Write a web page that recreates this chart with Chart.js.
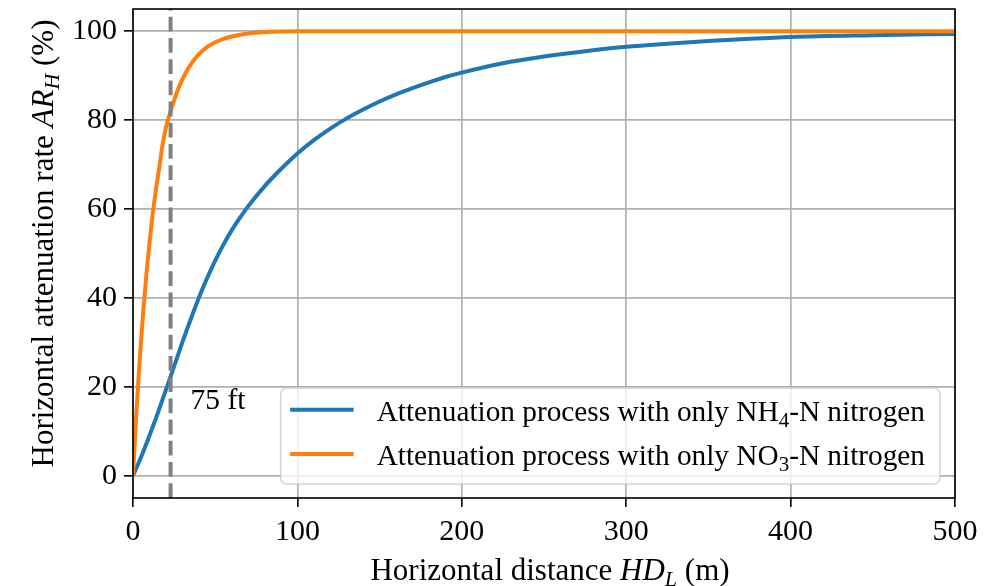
<!DOCTYPE html>
<html><head><meta charset="utf-8">
<script src="https://cdn.jsdelivr.net/npm/chart.js@4/dist/chart.umd.min.js"></script>
<style>html,body{margin:0;padding:0;background:#fff;}#wrap{width:1002px;height:586px;}</style>
</head><body><div id="wrap"><canvas id="c" width="1002" height="586"></canvas></div>
<script>
// ---- data ----
const distanceNH4 = [0,5,10,15,20,25,30,35,40,45,50,55,60,65,70,80,90,100,110,120,130,140,150,160,170,180,190,200,225,250,275,300,325,350,375,400,450,500];
const rateNH4     = [0,4.3,9,14,19.3,24.6,30,35.1,40,44.4,48.4,52,55.2,58,60.6,65.1,69,72.5,75.5,78.1,80.4,82.4,84.2,85.8,87.2,88.5,89.7,90.7,92.8,94.3,95.5,96.5,97.2,97.8,98.3,98.7,99.1,99.4];
const distanceNO3 = [0,2,4,6,8,10,12,14,16,18,20,22.86,25,28,32,36,40,45,50,55,60,70,80,90,100,200,300,400,500];
const rateNO3     = [0,13.8,25.7,35.9,44.7,52.3,58.9,64.5,69.4,74.5,78.3,82,84.4,87.5,90.6,93,94.8,96.4,97.5,98.3,98.8,99.5,99.8,99.95,100,100,100,100,100];
const xTicks = [0,100,200,300,400,500];
const yTicks = [0,20,40,60,80,100];
const markerDistance = 22.86;          // 75 ft
const markerLabel = '75 ft';
const markerLabelAt = [35, 15];        // data coords of annotation text
const labelNH4 = [{t:'Attenuation process with only NH'},{t:'4',sub:true},{t:'-N nitrogen'}];
const labelNO3 = [{t:'Attenuation process with only NO'},{t:'3',sub:true},{t:'-N nitrogen'}];
const xTitle = [{t:'Horizontal distance '},{t:'HD',it:true},{t:'L',it:true,sub:true},{t:' (m)'}];
const yTitle = [{t:'Horizontal attenuation rate '},{t:'AR',it:true},{t:'H',it:true,sub:true},{t:' (%)'}];

const SERIF = "'Liberation Serif','Times New Roman',serif";
const BLUE = '#1f77b4', ORANGE = '#ff7f0e';
const FS_TICK = 30, FS_TITLE = 31, FS_LEG = 29.3, FS_ANN = 29.5;

function pfont(p, size){ const s = p.sub ? Math.round(size*0.7) : size; return (p.it?'italic ':'') + s + 'px ' + SERIF; }
function richWidth(ctx, parts, size){ let w=0; for(const p of parts){ ctx.font=pfont(p,size); w+=ctx.measureText(p.t).width; } return w; }
function drawRich(ctx, parts, x, y, size, align){
  const w = richWidth(ctx, parts, size);
  let cx = align==='center' ? x - w/2 : (align==='right' ? x - w : x);
  ctx.textBaseline='alphabetic'; ctx.textAlign='left';
  for(const p of parts){
    ctx.font = pfont(p,size);
    ctx.fillText(p.t, cx, y + (p.sub ? size*0.2 : 0));
    cx += ctx.measureText(p.t).width;
  }
}

const decor = {
  id:'decor',
  afterDatasetsDraw(chart){
    const {ctx, chartArea:a} = chart;
    ctx.save();
    ctx.strokeStyle='#000'; ctx.lineWidth=1.6;
    ctx.strokeRect(a.left, a.top, a.right-a.left, a.bottom-a.top);
    ctx.restore();
  },
  afterDraw(chart){
    const {ctx, chartArea:a, scales} = chart;
    ctx.save();
    ctx.fillStyle='#000';
    drawRich(ctx, [{t:markerLabel}], scales.x.getPixelForValue(markerLabelAt[0]), scales.y.getPixelForValue(markerLabelAt[1]), FS_ANN, 'left');
    drawRich(ctx, xTitle, (a.left+a.right)/2 + 6, 580, FS_TITLE, 'center');
    ctx.save();
    ctx.translate(53, (a.top+a.bottom)/2 - 10);
    ctx.rotate(-Math.PI/2);
    drawRich(ctx, yTitle, 0, 0, FS_TITLE, 'center');
    ctx.restore();
    const entries = [[labelNH4, BLUE],[labelNO3, ORANGE]];
    const tw = Math.max(...entries.map(e=>richWidth(ctx,e[0],FS_LEG)));
    const right = a.right - 15, bottom = a.bottom - 14;
    const left = right - (96 + tw + 15), top = bottom - 96;
    ctx.beginPath();
    ctx.roundRect(left, top, right-left, bottom-top, 6);
    ctx.fillStyle='rgba(255,255,255,0.8)'; ctx.fill();
    ctx.strokeStyle='rgba(204,204,204,0.8)'; ctx.lineWidth=1.6; ctx.stroke();
    entries.forEach((e,i)=>{
      const cy = bottom - 74.3 + i*44.3;
      ctx.strokeStyle=e[1]; ctx.lineWidth=4; ctx.lineCap='butt';
      ctx.beginPath(); ctx.moveTo(left+9.5, cy); ctx.lineTo(left+73, cy); ctx.stroke();
      ctx.fillStyle='#000';
      drawRich(ctx, e[0], left+96, cy+11, FS_LEG, 'left');
    });
    ctx.restore();
  }
};

const tickFont = {family: SERIF, size: FS_TICK};
new Chart(document.getElementById('c'), {
  type:'line',
  data:{ datasets:[
    { label:'NH4', data: distanceNH4.map((x,i)=>({x, y:rateNH4[i]})), borderColor:BLUE, borderWidth:4, pointRadius:0, cubicInterpolationMode:'monotone', fill:false, order:2 },
    { label:'NO3', data: distanceNO3.map((x,i)=>({x, y:rateNO3[i]})), borderColor:ORANGE, borderWidth:4, pointRadius:0, cubicInterpolationMode:'monotone', fill:false, order:1 },
    { label:'75 ft', data: [{x:markerDistance, y:-5},{x:markerDistance, y:105}], borderColor:'#808080', borderWidth:4, borderDash:[14.8,6.4], pointRadius:0, fill:false, order:0 }
  ]},
  options:{
    responsive:false, animation:false, devicePixelRatio:1,
    layout:{ padding:{left:0, top:9, right:47, bottom:0} },
    plugins:{ legend:{display:false}, tooltip:{enabled:false}, title:{display:false} },
    scales:{
      x:{ type:'linear', min:0, max:500,
        afterBuildTicks(s){ s.ticks = xTicks.map(v=>({value:v})); },
        afterFit(s){ s.height = 88; s.paddingLeft=0; s.paddingRight=0; },
        ticks:{ font:tickFont, color:'#000', padding:7, maxRotation:0 },
        grid:{ color:'#b0b0b0', lineWidth:1.7, tickColor:'#000', tickWidth:1.6, tickLength:9 },
        border:{ display:false } },
      y:{ type:'linear', min:-5, max:105,
        afterBuildTicks(s){ s.ticks = yTicks.map(v=>({value:v})); },
        afterFit(s){ s.width = 133; s.paddingTop=0; s.paddingBottom=0; },
        ticks:{ font:tickFont, color:'#000', padding:7 },
        grid:{ color:'#b0b0b0', lineWidth:1.7, tickColor:'#000', tickWidth:1.6, tickLength:9 },
        border:{ display:false } }
    }
  },
  plugins:[decor]
});
</script></body></html>
